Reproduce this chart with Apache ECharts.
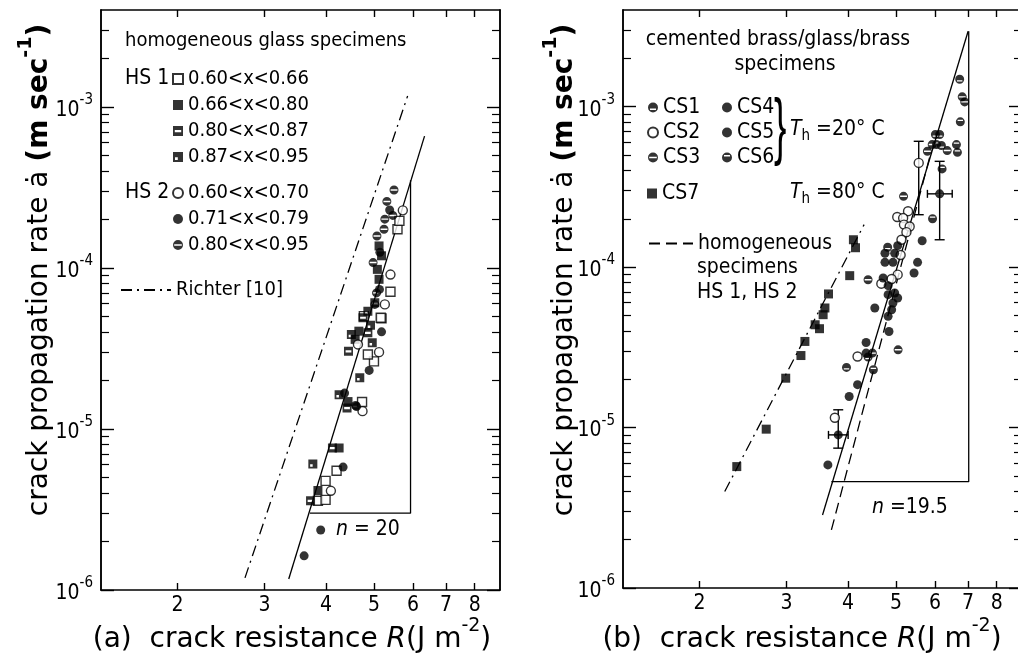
<!DOCTYPE html>
<html>
<head>
<meta charset="utf-8">
<script src="https://cdn.jsdelivr.net/npm/echarts@6/dist/echarts.min.js"></script>
<style>
html,body{margin:0;padding:0;background:#fff;}
#chart{width:1018px;height:656px;}
</style>
</head>
<body>
<div id="chart"></div>
<script>
// ---------- DATA (R in J m^-2, crack rate in m/s) ----------
const xTickLabels = [2, 3, 4, 5, 6, 7, 8];
const yDecades = [-6, -5, -4, -3];

// Panel (a): homogeneous glass specimens
const hs1_060_066 = [[3.85,3.58e-6],[3.99,3.63e-6],[3.99,4.76e-6],[4.20,5.50e-6],[4.73,1.47e-5],[5.00,2.63e-5],[4.86,2.90e-5],[5.18,4.86e-5],[4.77,5.02e-5],[5.16,4.91e-5],[5.40,7.12e-5],[5.58,1.74e-4],[5.63,1.96e-4]];
const hs1_066_080 = [[3.85,4.15e-6],[4.25,7.62e-6],[4.43,1.48e-5],[4.66,4.05e-5],[5.12,8.50e-5],[5.08,9.80e-5],[5.12,1.37e-4],[5.18,1.19e-4],[4.58,3.60e-5]];
const hs1_080_087 = [[3.72,3.58e-6],[4.12,7.62e-6],[4.41,1.35e-5],[4.44,3.04e-5],[4.86,3.96e-5],[4.75,4.91e-5],[5.02,6.08e-5]];
const hs1_087_095 = [[3.76,6.06e-6],[4.25,1.63e-5],[4.68,2.08e-5],[4.50,3.86e-5],[4.96,3.43e-5],[4.86,5.39e-5],[4.92,4.40e-5]];
const hs2_060_070 = [[4.09,4.13e-6],[4.74,1.29e-5],[5.12,3.00e-5],[5.26,5.94e-5],[5.40,9.10e-5],[5.72,2.28e-4],[4.64,3.35e-5]];
const hs2_071_079 = [[3.61,1.63e-6],[3.90,2.36e-6],[4.33,5.80e-6],[4.89,2.31e-5],[5.18,4.01e-5],[4.59,1.40e-5],[4.36,1.67e-5],[5.13,7.36e-5],[5.38,2.29e-4],[5.14,1.25e-4]];
const hs2_080_095 = [[4.61,1.38e-5],[5.02,5.94e-5],[5.49,3.05e-4],[5.31,2.59e-4],[5.26,2.01e-4],[5.46,2.12e-4],[5.24,1.74e-4],[5.07,1.58e-4],[4.98,1.08e-4],[5.06,7.00e-5]];
const richterLine = [[2.74,1.19e-6],[5.85,1.17e-3]];
const fitA = [[3.36,1.17e-6],[6.33,6.59e-4]];
const triangleA = [[3.71,3.0e-6],[5.93,3.0e-6],[5.93,3.5e-4]];

// Panel (b): cemented brass/glass/brass specimens
const cs1 = [[6.73,1.48e-3],[6.01,6.70e-4],[6.13,6.70e-4],[6.18,5.72e-4],[4.81,1.33e-4],[4.39,2.75e-5],[3.97,2.37e-5]];
const cs2 = [[5.56,4.46e-4],[5.29,2.23e-4],[5.03,2.05e-4],[5.17,2.02e-4],[5.19,1.84e-4],[5.33,1.79e-4],[5.25,1.65e-4],[5.13,1.48e-4],[5.11,1.19e-4],[5.04,8.97e-5],[4.90,8.43e-5],[4.67,7.88e-5],[4.18,2.77e-5],[3.76,1.15e-5]];
const cs3 = [[6.81,1.15e-3],[6.89,1.07e-3],[5.79,5.27e-4],[5.92,5.80e-4],[6.35,5.32e-4],[6.13,2.86e-4],[5.18,2.76e-4],[4.39,8.34e-5],[5.05,3.05e-5],[4.48,2.91e-5]];
const cs4 = [[5.65,1.46e-4],[5.04,1.36e-4],[4.97,1.22e-4],[4.75,1.22e-4],[5.53,1.07e-4],[4.75,1.07e-4],[5.44,9.19e-5],[4.71,8.55e-5],[4.82,7.66e-5],[4.35,3.39e-5],[3.64,5.85e-6]];
const cs5 = [[4.93,1.07e-4],[4.97,6.89e-5],[5.04,6.42e-5],[4.82,6.73e-5],[4.93,5.97e-5],[4.53,5.56e-5],[4.90,5.42e-5],[4.82,4.93e-5],[4.84,3.97e-5],[4.35,2.91e-5],[4.18,1.85e-5],[4.02,1.56e-5],[3.82,9.0e-6]];
const cs6 = [[6.75,8.04e-4],[6.04,5.80e-4],[6.63,5.80e-4],[6.66,5.19e-4],[6.20,4.09e-4],[5.93,2.00e-4],[4.50,2.29e-5]];
const cs7 = [[2.38,5.71e-6],[2.73,9.77e-6],[2.99,2.03e-5],[3.21,2.81e-5],[3.27,3.44e-5],[3.43,4.37e-5],[3.50,4.13e-5],[3.56,5.05e-5],[3.59,5.56e-5],[3.65,6.80e-5],[4.03,8.84e-5],[4.10,1.48e-4],[4.14,1.32e-4]];
// error bars: [R, rate, Rlow, Rhigh, rateLow, rateHigh]
const errBars = [[5.56,4.46e-4,5.56,5.56,2.12e-4,6.08e-4],[6.13,2.86e-4,5.79,6.50,1.48e-4,4.56e-4],[3.82,9.0e-6,3.65,4.00,7.44e-6,1.29e-5]];
const fitCS = [[3.55,2.85e-6],[7.00,2.95e-3]];
const fitCS7 = [[2.25,3.99e-6],[4.31,1.84e-4]];
const homogLine = [[3.70,2.30e-6],[5.87,5.02e-4]];
const triangleB = [[3.70,4.6e-6],[7.02,4.6e-6],[7.02,2.95e-3]];

// ---------- helpers ----------
const L = Math.log10;
const toLog = arr => arr.map(p => [L(p[0]), L(p[1])]);
const FONT = '"Liberation Sans Narrow","DejaVu Sans Condensed","Liberation Sans",sans-serif';
const TFONT = '"DejaVu Sans","Liberation Sans",sans-serif';
const X_MIN = L(1.4), X_MAX = L(9);
const Y_MIN = -6, Y_MAX = L(4e-3);
const xTicks = xTickLabels.map(L);
const yMinor = [];
yDecades.forEach(d => { for (let k = 2; k <= 9; k++) { const v = d + L(k); if (v < Y_MAX - 1e-6) yMinor.push(v); } });

const SYM = {
  slitSq: 'path://M0,0H10V10H0Z M1.8,3.9V6.3H8.2V3.9Z',
  dotSq: 'path://M0,0H10V10H0Z M2,5.2V8H4.8V5.2Z',
  bandC: 'path://M5,0A5,5,0,1,1,5,10A5,5,0,1,1,5,0Z M1.2,4.2V5.8H8.8V4.2Z',
  bandLowC: 'path://M5,0A5,5,0,1,1,5,10A5,5,0,1,1,5,0Z M2,6V7.4H8V6Z',
  bandTopC: 'path://M5,0A5,5,0,1,1,5,10A5,5,0,1,1,5,0Z M2,2.6V4H8V2.6Z'
};
const openStyle = {color:'#fff', borderColor:'#000', borderWidth:1.4};
const fillStyle = {color:'#000', borderColor:'#000', borderWidth:0};

function scat(name, data, symbol, style, grid, size) {
  return {
    name, type:'scatter', data: toLog(data), symbol, symbolSize: size || 9,
    itemStyle: style, xAxisIndex: grid ? 2 : 0, yAxisIndex: grid ? 4 : 0, z: 5,
    emphasis: {disabled: true}
  };
}
function line(name, data, type, grid, width) {
  return {
    name, type:'line', data: toLog(data), symbol:'none', showSymbol:false,
    lineStyle:{color:'#000', width: width || 1.3, type: type},
    itemStyle:{color:'#000'},
    xAxisIndex: grid ? 2 : 0, yAxisIndex: grid ? 4 : 0, z: 3, animation:false,
    emphasis: {disabled: true}
  };
}

function xAxisPair(gridIndex) {
  const base = {
    gridIndex, type:'value', min:X_MIN, max:X_MAX,
    splitLine:{show:false},
    axisLine:{show:true, lineStyle:{color:'#000', width:1.5}}
  };
  return [
    Object.assign({}, base, {
      position:'bottom',
      axisTick:{show:true, inside:true, length:7, customValues:xTicks, lineStyle:{color:'#000', width:1.4}},
      axisLabel:{show:true, customValues:xTicks, margin:5, color:'#000', fontSize:21, fontFamily:FONT,
        formatter: v => String(Math.round(Math.pow(10, v)))}
    }),
    Object.assign({}, base, {
      position:'top',
      axisTick:{show:true, inside:true, length:7, customValues:xTicks, lineStyle:{color:'#000', width:1.4}},
      axisLabel:{show:false}
    })
  ];
}
function yAxisSet(gridIndex) {
  const base = {gridIndex, type:'value', min:Y_MIN, max:Y_MAX, splitLine:{show:false},
    axisLine:{show:true, lineStyle:{color:'#000', width:1.5}}};
  const lbl = {show:true, customValues:yDecades, margin:8, color:'#000', fontFamily:FONT,
    formatter: v => '{b|10}{s|' + Math.round(v) + '}',
    rich:{b:{fontSize:21, fontFamily:FONT, color:'#000', lineHeight:28, verticalAlign:'bottom'},
          s:{fontSize:15, fontFamily:FONT, color:'#000', lineHeight:28, verticalAlign:'top'}}};
  return [
    Object.assign({}, base, {position:'left',
      axisTick:{show:true, inside:true, length:13, customValues:yDecades, lineStyle:{color:'#000', width:1.4}},
      axisLabel:lbl}),
    Object.assign({}, base, {position:'left',
      axisTick:{show:true, inside:true, length:8, customValues:yMinor, lineStyle:{color:'#000', width:1.2}},
      axisLabel:{show:false}}),
    Object.assign({}, base, {position:'right',
      axisTick:{show:true, inside:true, length:13, customValues:yDecades, lineStyle:{color:'#000', width:1.4}},
      axisLabel:{show:false}}),
    Object.assign({}, base, {position:'right',
      axisTick:{show:true, inside:true, length:8, customValues:yMinor, lineStyle:{color:'#000', width:1.2}},
      axisLabel:{show:false}})
  ];
}

function renderErr(params, api) {
  const x = api.value(0), y = api.value(1);
  const lo = api.coord([x, api.value(4)]), hi = api.coord([x, api.value(5)]);
  const l = api.coord([api.value(2), y]), r = api.coord([api.value(3), y]);
  const st = {stroke:'#000', lineWidth:1.4, fill:null};
  const ch = [
    {type:'line', shape:{x1:lo[0], y1:lo[1], x2:hi[0], y2:hi[1]}, style:st},
    {type:'line', shape:{x1:lo[0]-5, y1:lo[1], x2:lo[0]+5, y2:lo[1]}, style:st},
    {type:'line', shape:{x1:hi[0]-5, y1:hi[1], x2:hi[0]+5, y2:hi[1]}, style:st}
  ];
  if (r[0] - l[0] > 1) {
    ch.push({type:'line', shape:{x1:l[0], y1:l[1], x2:r[0], y2:r[1]}, style:st});
    ch.push({type:'line', shape:{x1:l[0], y1:l[1]-4, x2:l[0], y2:l[1]+4}, style:st});
    ch.push({type:'line', shape:{x1:r[0], y1:r[1]-4, x2:r[0], y2:r[1]+4}, style:st});
  }
  return {type:'group', children:ch};
}

const DASHDOT = [11, 5, 2, 5];
const DASHED = [11, 6];

const series = [
  scat('0.60<x<0.66', hs1_060_066, 'rect', openStyle, 0),
  scat('0.66<x<0.80', hs1_066_080, 'rect', fillStyle, 0),
  scat('0.80<x<0.87', hs1_080_087, SYM.slitSq, fillStyle, 0),
  scat('0.87<x<0.95', hs1_087_095, SYM.dotSq, fillStyle, 0),
  scat('0.60<x<0.70', hs2_060_070, 'circle', openStyle, 0),
  scat('0.71<x<0.79', hs2_071_079, 'circle', fillStyle, 0),
  scat('0.80<x<0.95', hs2_080_095, SYM.bandC, fillStyle, 0),
  line('Richter [10]', richterLine, DASHDOT, 0),
  line('fit a', fitA, 'solid', 0),
  line('slope a', triangleA, 'solid', 0),

  scat('CS1', cs1, SYM.bandLowC, fillStyle, 1),
  scat('CS2', cs2, 'circle', openStyle, 1),
  scat('CS3', cs3, SYM.bandC, fillStyle, 1),
  scat('CS4', cs4, 'circle', fillStyle, 1),
  scat('CS5', cs5, 'circle', fillStyle, 1),
  scat('CS6', cs6, SYM.bandTopC, fillStyle, 1),
  scat('CS7', cs7, 'rect', fillStyle, 1),
  line('homogeneous', homogLine, DASHED, 1),
  line('fit b', fitCS, 'solid', 1),
  line('fit CS7', fitCS7, DASHDOT, 1),
  line('slope b', triangleB, 'solid', 1),
  {name:'error bars', type:'custom', xAxisIndex:2, yAxisIndex:4, z:4,
   data: errBars.map(e => e.map(L)), renderItem: renderErr, silent:true}
];

const legTxt = {color:'#000', fontSize:20, fontFamily:FONT};
const legBase = {orient:'vertical', padding:0, itemWidth:10, itemHeight:10, selectedMode:false, textStyle:legTxt};
const noSym = name => ({name, itemStyle:{opacity:0}});
const legend = [
  Object.assign({}, legBase, {data:['0.60<x<0.66','0.66<x<0.80','0.80<x<0.87','0.87<x<0.95'], left:172, top:69, itemGap:6}),
  Object.assign({}, legBase, {data:['0.60<x<0.70','0.71<x<0.79','0.80<x<0.95'], left:172, top:183, itemGap:6}),
  Object.assign({}, legBase, {data:[noSym('Richter [10]')], left:120, top:280, itemWidth:50}),
  Object.assign({}, legBase, {data:['CS1','CS2','CS3'], left:647, top:97, itemGap:4, textStyle:Object.assign({}, legTxt, {fontSize:21})}),
  Object.assign({}, legBase, {data:['CS4','CS5','CS6'], left:722, top:97, itemGap:4, textStyle:Object.assign({}, legTxt, {fontSize:21})}),
  Object.assign({}, legBase, {data:['CS7'], left:647, top:183, textStyle:Object.assign({}, legTxt, {fontSize:21})}),
  Object.assign({}, legBase, {data:[noSym('homogeneous')], left:648, top:233, itemWidth:44, textStyle:Object.assign({}, legTxt, {fontSize:21})})
];

function T(x, y, text, opt, extra) {
  return Object.assign({type:'text', x, y, silent:true,
    style:Object.assign({text, fill:'#000', fontFamily:FONT, fontSize:21, align:'left', verticalAlign:'middle'}, opt || {})}, extra || {});
}
const thRich = {i:{fontStyle:'italic', fontFamily:FONT, fontSize:21, color:'#000', lineHeight:28, verticalAlign:'middle'},
  sub:{fontSize:15, fontFamily:FONT, color:'#000', lineHeight:28, verticalAlign:'bottom'},
  n:{fontSize:21, fontFamily:FONT, color:'#000', lineHeight:28, verticalAlign:'middle'}};
const titleRich = {
  t:{fontSize:28, fontFamily:TFONT, color:'#000', lineHeight:37, verticalAlign:'bottom'},
  bd:{fontSize:28, fontFamily:TFONT, fontWeight:'bold', color:'#000', lineHeight:37, verticalAlign:'bottom'},
  it:{fontSize:28, fontFamily:TFONT, fontStyle:'italic', color:'#000', lineHeight:37, verticalAlign:'bottom'},
  sup:{fontSize:19, fontFamily:TFONT, color:'#000', lineHeight:37, verticalAlign:'top'},
  supb:{fontSize:19, fontFamily:TFONT, fontWeight:'bold', color:'#000', lineHeight:37, verticalAlign:'top'}
};
const yTitle = '{t|crack propagation rate ȧ }{bd|(m sec}{supb|-1}{bd|)}';

const graphic = [
  T(125, 41, 'homogeneous glass specimens', {fontSize:20}),
  T(125, 79, 'HS 1'),
  T(125, 193, 'HS 2'),
  T(336, 530, '{i|n}{n| = 20}', {rich:thRich}),
  T(778, 40, 'cemented brass/glass/brass', {align:'center'}),
  T(785, 65, 'specimens', {align:'center'}),
  T(774, 131, '}', {fontSize:74, fontFamily:'"Liberation Sans","DejaVu Sans",sans-serif'}, {scaleX:0.5}),
  T(790, 130, '{i|T}{sub|h}{n| =20° C}', {rich:thRich}),
  T(790, 193, '{i|T}{sub|h}{n| =80° C}', {rich:thRich}),
  T(697, 268, 'specimens'),
  T(697, 293, 'HS 1, HS 2'),
  T(872, 508, '{i|n}{n| =19.5}', {rich:thRich}),
  {type:'text', x:35, y:270, rotation:Math.PI/2, silent:true,
   style:{text:yTitle, rich:titleRich, align:'center', verticalAlign:'middle', fill:'#000'}},
  {type:'text', x:560, y:270, rotation:Math.PI/2, silent:true,
   style:{text:yTitle, rich:titleRich, align:'center', verticalAlign:'middle', fill:'#000'}},
  {type:'text', x:292, y:635, silent:true,
   style:{text:'{t|(a)  crack resistance }{it|R}{t|(J m}{sup|-2}{t|)}', rich:titleRich, align:'center', verticalAlign:'middle', fill:'#000'}},
  {type:'text', x:802, y:635, silent:true,
   style:{text:'{t|(b)  crack resistance }{it|R}{t|(J m}{sup|-2}{t|)}', rich:titleRich, align:'center', verticalAlign:'middle', fill:'#000'}}
];

const option = {
  backgroundColor:'#fff',
  animation:false,
  grid:[
    {left:101, top:10, width:399, height:580, containLabel:false, outerBoundsMode:'none'},
    {left:623, top:10, width:399, height:578, containLabel:false, outerBoundsMode:'none'}
  ],
  xAxis: xAxisPair(0).concat(xAxisPair(1)),
  yAxis: yAxisSet(0).concat(yAxisSet(1)),
  legend,
  series,
  graphic
};

const chart = echarts.init(document.getElementById('chart'), null, {renderer:'canvas'});
chart.setOption(option);
</script>
</body>
</html>
